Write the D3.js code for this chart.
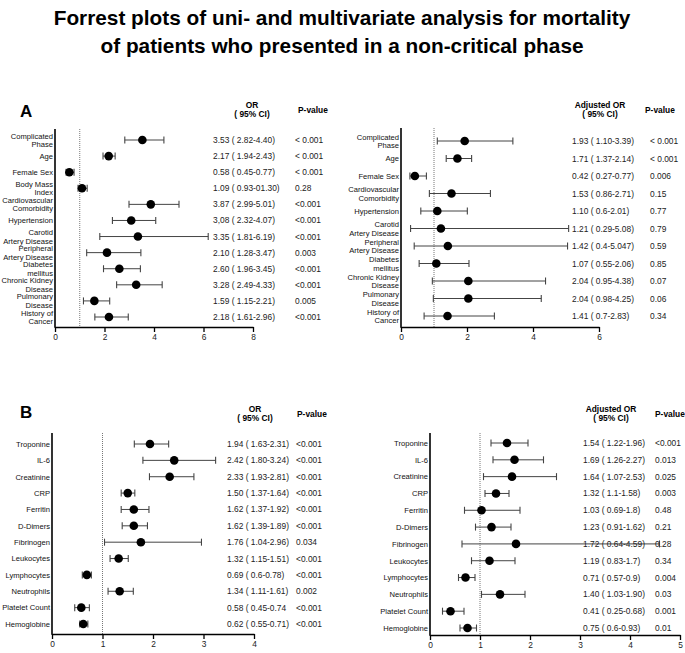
<!DOCTYPE html>
<html>
<head>
<meta charset="utf-8">
<script src="https://cdn.jsdelivr.net/npm/d3@7"></script>
<style>
  body { margin: 0; background: #fff; }
  svg { font-family: "Liberation Sans", Arial, sans-serif; }
</style>
</head>
<body>
<svg id="chart" width="685" height="653"></svg>
<script>
// ---- data ----
// panel A, univariate
const labelsA1 = ["Complicated\nPhase", "Age", "Female Sex", "Body Mass\nIndex", "Cardiovascular\nComorbidity", "Hypertension",
  "Carotid\nArtery Disease", "Peripheral\nArtery Disease", "Diabetes\nmellitus", "Chronic Kidney\nDisease", "Pulmonary\nDisease", "History of\nCancer"]
const orA1 = [3.53, 2.17, 0.58, 1.09, 3.87, 3.08, 3.35, 2.10, 2.60, 3.28, 1.59, 2.18]
const loA1 = [2.82, 1.94, 0.45, 0.93, 2.99, 2.32, 1.81, 1.28, 1.96, 2.49, 1.15, 1.61]
const hiA1 = [4.40, 2.43, 0.77, 1.30, 5.01, 4.07, 6.19, 3.47, 3.45, 4.33, 2.21, 2.96]
const ciTextA1 = ["3.53 ( 2.82-4.40)", "2.17 ( 1.94-2.43)", "0.58 ( 0.45-0.77)", "1.09 ( 0.93-01.30)", "3.87 ( 2.99-5.01)", "3,08 ( 2.32-4.07)",
  "3.35 ( 1.81-6.19)", "2.10 ( 1.28-3.47)", "2.60 ( 1.96-3.45)", "3.28 ( 2.49-4.33)", "1.59 ( 1.15-2.21)", "2.18 ( 1.61-2.96)"]
const pA1 = ["< 0.001", "< 0.001", "< 0.001", "0.28", "<0.001", "<0.001", "<0.001", "0.003", "<0.001", "<0.001", "0.005", "<0.001"]

// panel A, multivariate
const labelsA2 = ["Complicated\nPhase", "Age", "Female Sex", "Cardiovascular\nComorbidity", "Hypertension", "Carotid\nArtery Disease",
  "Peripheral\nArtery Disease", "Diabetes\nmellitus", "Chronic Kidney\nDisease", "Pulmonary\nDisease", "History of\nCancer"]
const orA2 = [1.93, 1.71, 0.42, 1.53, 1.10, 1.21, 1.42, 1.07, 2.04, 2.04, 1.41]
const loA2 = [1.10, 1.37, 0.27, 0.86, 0.6, 0.29, 0.4, 0.55, 0.95, 0.98, 0.7]
const hiA2 = [3.39, 2.14, 0.77, 2.71, 2.01, 5.08, 5.047, 2.06, 4.38, 4.25, 2.83]
const ciTextA2 = ["1.93 ( 1.10-3.39)", "1.71 ( 1.37-2.14)", "0.42 ( 0.27-0.77)", "1.53 ( 0.86-2.71)", "1.10 ( 0.6-2.01)", "1.21 ( 0.29-5.08)",
  "1.42 ( 0.4-5.047)", "1.07 ( 0.55-2.06)", "2.04 ( 0.95-4.38)", "2.04 ( 0.98-4.25)", "1.41 ( 0.7-2.83)"]
const pA2 = ["< 0.001", "< 0.001", "0.006", "0.15", "0.77", "0.79", "0.59", "0.85", "0.07", "0.06", "0.34"]

// panel B, univariate
const labelsB = ["Troponine", "IL-6", "Creatinine", "CRP", "Ferritin", "D-Dimers", "Fibrinogen", "Leukocytes", "Lymphocytes", "Neutrophils", "Platelet Count", "Hemoglobine"]
const orB1 = [1.94, 2.42, 2.33, 1.50, 1.62, 1.62, 1.76, 1.32, 0.69, 1.34, 0.58, 0.62]
const loB1 = [1.63, 1.80, 1.93, 1.37, 1.37, 1.39, 1.04, 1.15, 0.6, 1.11, 0.45, 0.55]
const hiB1 = [2.31, 3.24, 2.81, 1.64, 1.92, 1.89, 2.96, 1.51, 0.78, 1.61, 0.74, 0.71]
const ciTextB1 = ["1.94 ( 1.63-2.31)", "2.42 ( 1.80-3.24)", "2.33 ( 1.93-2.81)", "1.50 ( 1.37-1.64)", "1.62 ( 1.37-1.92)", "1.62 ( 1.39-1.89)",
  "1.76 ( 1.04-2.96)", "1.32 ( 1.15-1.51)", "0.69 ( 0.6-0.78)", "1.34 ( 1.11-1.61)", "0.58 ( 0.45-0.74", "0.62 ( 0.55-0.71)"]
const pB1 = ["<0.001", "<0.001", "<0.001", "<0.001", "<0.001", "<0.001", "0.034", "<0.001", "<0.001", "0.002", "<0.001", "<0.001"]

// panel B, multivariate
const orB2 = [1.54, 1.69, 1.64, 1.32, 1.03, 1.23, 1.72, 1.19, 0.71, 1.40, 0.41, 0.75]
const loB2 = [1.22, 1.26, 1.07, 1.1, 0.69, 0.91, 0.64, 0.83, 0.57, 1.03, 0.25, 0.6]
const hiB2 = [1.96, 2.27, 2.53, 1.58, 1.8, 1.62, 4.59, 1.7, 0.9, 1.90, 0.68, 0.93]
const ciTextB2 = ["1.54 ( 1.22-1.96)", "1.69 ( 1.26-2.27)", "1.64 ( 1.07-2.53)", "1.32 ( 1.1-1.58)", "1.03 ( 0.69-1.8)", "1.23 ( 0.91-1.62)",
  "1.72 ( 0.64-4.59)", "1.19 ( 0.83-1.7)", "0.71 ( 0.57-0.9)", "1.40 ( 1.03-1.90)", "0.41 ( 0.25-0.68)", "0.75 ( 0.6-0.93)"]
const pB2 = ["<0.001", "0.013", "0.025", "0.003", "0.48", "0.21", "0.28", "0.34", "0.004", "0.03", "0.001", "0.01"]

const svg = d3.select("#chart")

// title
svg.append("text")
    .attr("x", 342).attr("y", 25)
    .attr("text-anchor", "middle")
    .style("font-size", "20.8px").style("font-weight", "bold")
    .text("Forrest plots of uni- and multivariate analysis for mortality")
svg.append("text")
    .attr("x", 342).attr("y", 53)
    .attr("text-anchor", "middle")
    .style("font-size", "20.8px").style("font-weight", "bold")
    .text("of patients who presented in a non-critical phase")

svg.append("text").attr("x", 20).attr("y", 117)
    .style("font-size", "17px").style("font-weight", "bold").text("A")
svg.append("text").attr("x", 20).attr("y", 418)
    .style("font-size", "17px").style("font-weight", "bold").text("B")

function drawForest(p) {
    const g = svg.append("g")

    const x = d3.scaleLinear().domain([0, p.xmax]).range([p.x0, p.x0 + p.unit * p.xmax])
    const y = d3.scalePoint().domain(d3.range(p.labels.length)).range([p.rowFirst, p.rowLast])

    // reference line at OR = 1
    g.append("line")
        .attr("x1", x(1)).attr("x2", x(1))
        .attr("y1", p.yTop).attr("y2", p.yBottom)
        .attr("stroke", "#777").attr("stroke-width", 1)
        .attr("stroke-dasharray", "1,1")

    // x axis
    const axis = g.append("g")
        .attr("transform", `translate(0,${p.yBottom})`)
        .call(d3.axisBottom(x).tickValues(p.ticks).tickFormat(d3.format("d"))
            .tickSize(5).tickSizeOuter(0).tickPadding(2))
    axis.select(".domain").attr("stroke", "#000").attr("stroke-width", 1.6)
    axis.selectAll(".tick line").attr("stroke", "#000").attr("stroke-width", 1.3)
    axis.selectAll(".tick text").style("font-size", "8.4px").style("font-family", "Liberation Sans, Arial, sans-serif").attr("fill", "#222")

    // y axis line
    g.append("line")
        .attr("x1", p.x0).attr("x2", p.x0)
        .attr("y1", p.yTop).attr("y2", p.yBottom + 0.8)
        .attr("stroke", "#000").attr("stroke-width", 1.6)

    const rows = g.selectAll(".row")
        .data(p.labels.map((l, i) => i))
        .join("g")
        .attr("class", "row")

    // CI lines and caps
    rows.append("line")
        .attr("x1", i => x(p.lo[i])).attr("x2", i => x(p.hi[i]))
        .attr("y1", i => y(i)).attr("y2", i => y(i))
        .attr("stroke", "#444").attr("stroke-width", 1)
    rows.append("line")
        .attr("x1", i => x(p.lo[i])).attr("x2", i => x(p.lo[i]))
        .attr("y1", i => y(i) - 3.5).attr("y2", i => y(i) + 3.5)
        .attr("stroke", "#444").attr("stroke-width", 1.1)
    rows.append("line")
        .attr("x1", i => x(p.hi[i])).attr("x2", i => x(p.hi[i]))
        .attr("y1", i => y(i) - 3.5).attr("y2", i => y(i) + 3.5)
        .attr("stroke", "#444").attr("stroke-width", 1.1)

    rows.append("circle")
        .attr("cx", i => x(p.or[i])).attr("cy", i => y(i))
        .attr("r", 4.3).attr("fill", "#000")

    // row labels, one or two lines
    rows.append("text")
        .attr("text-anchor", "end")
        .style("font-size", "7.6px")
        .attr("fill", "#111")
        .each(function (i) {
            const lines = p.labels[i].split("\n")
            const t = d3.select(this)
            lines.forEach((line, k) => {
                t.append("tspan")
                    .attr("x", p.x0 - 2)
                    .attr("y", y(i) + 2.8 + (k - (lines.length - 1) / 2) * 8.6)
                    .text(line)
            })
        })

    // text columns
    rows.append("text")
        .attr("x", p.col1).attr("y", i => y(i) + 3)
        .style("font-size", "8.4px").attr("fill", "#222")
        .text(i => p.ciText[i])
    rows.append("text")
        .attr("x", p.col2).attr("y", i => y(i) + 3)
        .style("font-size", "8.4px").attr("fill", "#222")
        .text(i => p.pval[i])

    // headers
    g.append("text")
        .attr("x", p.headCenter).attr("y", p.headY)
        .attr("text-anchor", "middle")
        .style("font-size", "8.4px").style("font-weight", "bold")
        .text(p.headTitle)
    g.append("text")
        .attr("x", p.headCenter).attr("y", p.headY + 9)
        .attr("text-anchor", "middle")
        .style("font-size", "8.4px").style("font-weight", "bold")
        .text("( 95% CI)")
    g.append("text")
        .attr("x", p.pHeadX).attr("y", p.headY + 5)
        .style("font-size", "8.4px").style("font-weight", "bold")
        .text("P-value")
}

drawForest({
    labels: labelsA1, or: orA1, lo: loA1, hi: hiA1, ciText: ciTextA1, pval: pA1,
    x0: 55, unit: 24.75, xmax: 8, ticks: [0, 2, 4, 6, 8],
    yTop: 129, yBottom: 327, rowFirst: 140, rowLast: 317,
    col1: 213, col2: 295, headCenter: 252, headY: 108, headTitle: "OR", pHeadX: 298
})
drawForest({
    labels: labelsA2, or: orA2, lo: loA2, hi: hiA2, ciText: ciTextA2, pval: pA2,
    x0: 401, unit: 33, xmax: 6, ticks: [0, 2, 4, 6],
    yTop: 128, yBottom: 327, rowFirst: 141, rowLast: 316,
    col1: 572, col2: 650, headCenter: 600, headY: 108, headTitle: "Adjusted OR", pHeadX: 645
})
drawForest({
    labels: labelsB, or: orB1, lo: loB1, hi: hiB1, ciText: ciTextB1, pval: pB1,
    x0: 52, unit: 50.5, xmax: 4, ticks: [0, 1, 2, 3, 4],
    yTop: 433, yBottom: 634, rowFirst: 444, rowLast: 624,
    col1: 227, col2: 296, headCenter: 255, headY: 412, headTitle: "OR", pHeadX: 297
})
drawForest({
    labels: labelsB, or: orB2, lo: loB2, hi: hiB2, ciText: ciTextB2, pval: pB2,
    x0: 430, unit: 50, xmax: 5, ticks: [0, 1, 2, 3, 4, 5],
    yTop: 433, yBottom: 635, rowFirst: 443, rowLast: 628,
    col1: 583, col2: 655, headCenter: 611, headY: 412, headTitle: "Adjusted OR", pHeadX: 655
})
</script>
</body>
</html>
